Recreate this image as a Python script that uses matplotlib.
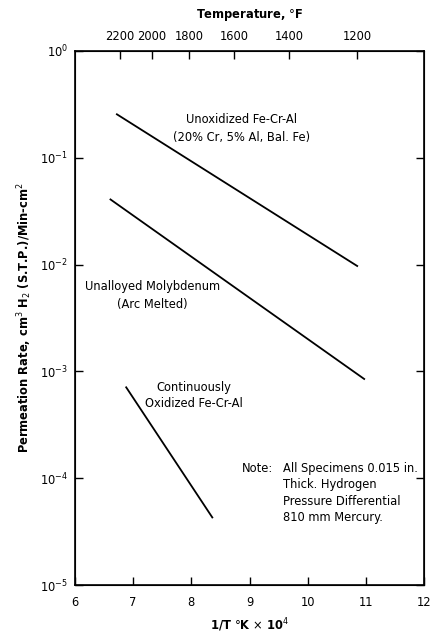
import matplotlib
matplotlib.use("Agg")
import matplotlib.pyplot as plt
import numpy as np

# lines: x = 1/T (K) x 1e4, y = permeation rate
fecral_x = [6.72, 10.85]
fecral_y = [0.255, 0.0097]
moly_x = [6.61, 10.97]
moly_y = [0.0407, 0.00085]
oxid_x = [6.88, 8.36]
oxid_y = [7.1e-4, 4.3e-5]

temps_f = [2200, 2000, 1800, 1600, 1400, 1200]
x_ticks = [6, 7, 8, 9, 10, 11, 12]
y_ticks = [1e-5, 1e-4, 1e-3, 1e-2, 1e-1, 1e0]

def f_to_invk(t):
    return 1e4 / ((t - 32) * 5.0 / 9.0 + 273.15)

plt.rcParams['font.family'] = ['DejaVu Sans']
fs = 8.3

fig = plt.figure(figsize=(4.31, 6.36), dpi=100)
ax = fig.add_axes([0.174, 0.080, 0.810, 0.840])

ax.semilogy(fecral_x, fecral_y, color='black', lw=1.3)
ax.semilogy(moly_x, moly_y, color='black', lw=1.3)
ax.semilogy(oxid_x, oxid_y, color='black', lw=1.3)

ax.set_xlim(6, 12)
ax.set_ylim(1e-5, 1e0)
ax.set_xticks(x_ticks)
ax.set_yticks(y_ticks)
ax.minorticks_off()
ax.tick_params(axis='both', direction='in', length=6, width=1, labelsize=fs)
ax.tick_params(axis='x', bottom=True, top=False, pad=8)
ax.tick_params(axis='y', right=True, left=True, pad=5)
for s in ax.spines.values():
    s.set_linewidth(1.2)

ax.set_xlabel(r'1/T $\degree$K $\times$ 10$^4$', fontsize=fs, fontweight='bold', labelpad=5)
ax.set_ylabel(r'Permeation Rate, cm$^3$ H$_2$ (S.T.P.)/Min-cm$^2$', fontsize=fs,
              fontweight='bold', labelpad=4)

top = ax.twiny()
top.set_xlim(ax.get_xlim())
top.set_xticks([f_to_invk(t) for t in temps_f])
top.set_xticklabels([str(t) for t in temps_f])
top.tick_params(axis='x', direction='in', length=6, width=1, labelsize=fs, pad=6)
top.minorticks_off()
top.set_xlabel(r'Temperature, $\degree$F', fontsize=fs, fontweight='bold', labelpad=8)

ax.text(8.87, 0.229, 'Unoxidized Fe-Cr-Al', fontsize=fs, ha='center', va='center')
ax.text(8.87, 0.156, '(20% Cr, 5% Al, Bal. Fe)', fontsize=fs, ha='center', va='center')
ax.text(7.33, 0.0062, 'Unalloyed Molybdenum', fontsize=fs, ha='center', va='center')
ax.text(7.33, 0.00425, '(Arc Melted)', fontsize=fs, ha='center', va='center')
ax.text(8.04, 7.1e-4, 'Continuously', fontsize=fs, ha='center', va='center')
ax.text(8.04, 5.0e-4, 'Oxidized Fe-Cr-Al', fontsize=fs, ha='center', va='center')

ax.text(8.87, 1.24e-4, 'Note:', fontsize=fs, ha='left', va='center')
note = ['All Specimens 0.015 in.', 'Thick. Hydrogen', 'Pressure Differential', '810 mm Mercury.']
for i, line in enumerate(note):
    ax.text(9.57, 1.24e-4 * (0.7 ** i), line, fontsize=fs, ha='left', va='center')

fig.savefig('out.png', dpi=100)
